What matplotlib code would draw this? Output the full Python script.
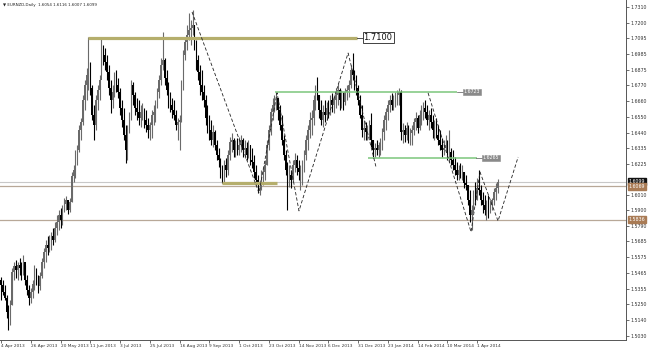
import matplotlib
matplotlib.use("Agg")
import matplotlib.pyplot as plt
import matplotlib.transforms as mtransforms
import numpy as np

# ---------------- data (EURNZD daily) ----------------
FIRST_OPEN = 1.5420

HIGH = [
    1.5439, 1.5418, 1.5383, 1.5314, 1.5244, 1.5279, 1.5501, 1.5543, 1.5557, 1.5543,
    1.5570, 1.5543, 1.5591, 1.5522, 1.5453, 1.5383, 1.5362, 1.5418, 1.5522, 1.5501,
    1.5453, 1.5473, 1.5570, 1.5640, 1.5695, 1.5723, 1.5730, 1.5751, 1.5779, 1.5820,
    1.5869, 1.5904, 1.5917, 1.5938, 1.5987, 1.6001, 1.5973, 1.5987, 1.6167, 1.6216,
    1.6320, 1.6355, 1.6494, 1.6542, 1.6702, 1.6806, 1.6889, 1.7104, 1.6931, 1.6771,
    1.6632, 1.6702, 1.6771, 1.6841, 1.7104, 1.7049, 1.7028, 1.6979, 1.6910, 1.6806,
    1.6771, 1.6861, 1.6875, 1.6820, 1.6750, 1.6667, 1.6611, 1.6494, 1.6494, 1.6584,
    1.6806, 1.6792, 1.6723, 1.6681, 1.6667, 1.6632, 1.6646, 1.6611, 1.6598, 1.6542,
    1.6514, 1.6598, 1.6632, 1.6667, 1.6750, 1.6841, 1.6958, 1.7139, 1.6958, 1.6875,
    1.6792, 1.6723, 1.6681, 1.6667, 1.6598, 1.6542, 1.6563, 1.6806, 1.7014, 1.7097,
    1.7188, 1.7271, 1.7222, 1.7292, 1.7188, 1.7083, 1.6979, 1.6910, 1.6875, 1.6771,
    1.6702, 1.6632, 1.6563, 1.6528, 1.6494, 1.6459, 1.6389, 1.6334, 1.6264, 1.6216,
    1.6251, 1.6264, 1.6320, 1.6410, 1.6438, 1.6403, 1.6389, 1.6403, 1.6410, 1.6424,
    1.6403, 1.6389, 1.6376, 1.6389, 1.6355, 1.6334, 1.6285, 1.6216, 1.6147, 1.6112,
    1.6181, 1.6195, 1.6251, 1.6389, 1.6494, 1.6611, 1.6681, 1.6702, 1.6723, 1.6681,
    1.6632, 1.6563, 1.6424, 1.6320, 1.6237, 1.6216, 1.6181, 1.6251, 1.6299, 1.6285,
    1.6251, 1.6216, 1.6251, 1.6320, 1.6424, 1.6494, 1.6584, 1.6598, 1.6702, 1.6771,
    1.6827, 1.6702, 1.6667, 1.6632, 1.6667, 1.6653, 1.6667, 1.6702, 1.6716, 1.6702,
    1.6750, 1.6785, 1.6750, 1.6736, 1.6723, 1.6750, 1.6771, 1.6806, 1.6910, 1.6993,
    1.6875, 1.6841, 1.6771, 1.6702, 1.6632, 1.6528, 1.6514, 1.6494, 1.6528, 1.6577,
    1.6389, 1.6369, 1.6389, 1.6376, 1.6403, 1.6473, 1.6563, 1.6611, 1.6667, 1.6702,
    1.6716, 1.6702, 1.6723, 1.6736, 1.6750, 1.6736, 1.6507, 1.6494, 1.6514, 1.6494,
    1.6473, 1.6494, 1.6542, 1.6584, 1.6563, 1.6598, 1.6632, 1.6653, 1.6667, 1.6632,
    1.6598, 1.6611, 1.6563, 1.6528, 1.6542, 1.6494, 1.6459, 1.6403, 1.6389, 1.6424,
    1.6389, 1.6459, 1.6334, 1.6320, 1.6271, 1.6237, 1.6216, 1.6230, 1.6216, 1.6167,
    1.6147, 1.6077, 1.6042, 1.5938, 1.6042, 1.6098, 1.6126, 1.6181, 1.6077, 1.6029,
    1.6008, 1.5973, 1.6008, 1.5973, 1.5987, 1.6056, 1.6091, 1.6116,
]

LOW = [
    1.5279, 1.5314, 1.5279, 1.5154, 1.5071, 1.5106, 1.5244, 1.5418, 1.5432, 1.5418,
    1.5453, 1.5418, 1.5453, 1.5383, 1.5314, 1.5244, 1.5258, 1.5293, 1.5348, 1.5383,
    1.5328, 1.5348, 1.5432, 1.5501, 1.5543, 1.5591, 1.5612, 1.5626, 1.5661, 1.5682,
    1.5730, 1.5765, 1.5779, 1.5800, 1.5890, 1.5904, 1.5876, 1.5890, 1.5959, 1.6098,
    1.6126, 1.6216, 1.6306, 1.6389, 1.6494, 1.6598, 1.6667, 1.6736, 1.6702, 1.6528,
    1.6389, 1.6459, 1.6598, 1.6667, 1.6841, 1.6910, 1.6875, 1.6806, 1.6702, 1.6577,
    1.6611, 1.6688, 1.6723, 1.6681, 1.6563, 1.6480, 1.6389, 1.6230, 1.6251, 1.6438,
    1.6528, 1.6632, 1.6563, 1.6528, 1.6494, 1.6480, 1.6528, 1.6473, 1.6445, 1.6403,
    1.6389, 1.6403, 1.6494, 1.6514, 1.6611, 1.6681, 1.6771, 1.6875, 1.6771, 1.6702,
    1.6611, 1.6584, 1.6542, 1.6528, 1.6459, 1.6389, 1.6320, 1.6514, 1.6736, 1.6945,
    1.7014, 1.7083, 1.7049, 1.7118, 1.7014, 1.6875, 1.6806, 1.6702, 1.6667, 1.6618,
    1.6494, 1.6438, 1.6389, 1.6355, 1.6341, 1.6320, 1.6251, 1.6202, 1.6126, 1.6091,
    1.6098, 1.6133, 1.6147, 1.6251, 1.6306, 1.6271, 1.6271, 1.6285, 1.6285, 1.6306,
    1.6271, 1.6264, 1.6251, 1.6264, 1.6216, 1.6195, 1.6126, 1.6077, 1.6022, 1.6008,
    1.6042, 1.6077, 1.6112, 1.6216, 1.6320, 1.6424, 1.6528, 1.6584, 1.6598, 1.6528,
    1.6459, 1.6355, 1.6251, 1.6147, 1.5904, 1.6063, 1.6056, 1.6098, 1.6167, 1.6147,
    1.6112, 1.6042, 1.6077, 1.6167, 1.6251, 1.6320, 1.6403, 1.6424, 1.6494, 1.6598,
    1.6667, 1.6542, 1.6494, 1.6480, 1.6514, 1.6528, 1.6542, 1.6563, 1.6584, 1.6577,
    1.6611, 1.6632, 1.6598, 1.6611, 1.6598, 1.6632, 1.6667, 1.6688, 1.6750, 1.6806,
    1.6736, 1.6702, 1.6632, 1.6542, 1.6410, 1.6389, 1.6389, 1.6389, 1.6403, 1.6341,
    1.6271, 1.6271, 1.6285, 1.6271, 1.6285, 1.6320, 1.6389, 1.6459, 1.6528, 1.6584,
    1.6598, 1.6598, 1.6618, 1.6632, 1.6632, 1.6389, 1.6369, 1.6376, 1.6389, 1.6369,
    1.6355, 1.6355, 1.6424, 1.6459, 1.6438, 1.6459, 1.6494, 1.6528, 1.6542, 1.6494,
    1.6459, 1.6473, 1.6403, 1.6389, 1.6403, 1.6355, 1.6320, 1.6271, 1.6285, 1.6306,
    1.6251, 1.6237, 1.6216, 1.6181, 1.6147, 1.6112, 1.6112, 1.6126, 1.6112, 1.6056,
    1.6042, 1.5938, 1.5820, 1.5765, 1.5890, 1.5938, 1.5973, 1.6008, 1.5938, 1.5883,
    1.5869, 1.5834, 1.5848, 1.5883, 1.5904, 1.5938, 1.5973, 1.6022,
]

CLOSE = [
    1.5383, 1.5335, 1.5293, 1.5196, 1.5154, 1.5244, 1.5473, 1.5515, 1.5487, 1.5522,
    1.5501, 1.5459, 1.5543, 1.5418, 1.5348, 1.5293, 1.5335, 1.5390, 1.5487, 1.5418,
    1.5376, 1.5446, 1.5543, 1.5612, 1.5661, 1.5640, 1.5695, 1.5723, 1.5695, 1.5779,
    1.5820, 1.5869, 1.5834, 1.5904, 1.5945, 1.5973, 1.5904, 1.5959, 1.6140, 1.6181,
    1.6285, 1.6320, 1.6459, 1.6514, 1.6667, 1.6771, 1.6841, 1.6875, 1.6750, 1.6563,
    1.6494, 1.6667, 1.6736, 1.6806, 1.7014, 1.6979, 1.6931, 1.6861, 1.6750, 1.6667,
    1.6723, 1.6820, 1.6771, 1.6723, 1.6611, 1.6528, 1.6424, 1.6320, 1.6459, 1.6542,
    1.6771, 1.6702, 1.6611, 1.6584, 1.6542, 1.6584, 1.6598, 1.6528, 1.6494, 1.6459,
    1.6494, 1.6563, 1.6584, 1.6632, 1.6723, 1.6806, 1.6910, 1.6945, 1.6820, 1.6736,
    1.6667, 1.6632, 1.6598, 1.6563, 1.6494, 1.6514, 1.6528, 1.6771, 1.6979, 1.7070,
    1.7118, 1.7153, 1.7167, 1.7188, 1.7049, 1.6945, 1.6861, 1.6771, 1.6723, 1.6667,
    1.6542, 1.6494, 1.6459, 1.6389, 1.6445, 1.6355, 1.6285, 1.6251, 1.6181, 1.6126,
    1.6216, 1.6181, 1.6285, 1.6376, 1.6389, 1.6320, 1.6355, 1.6320, 1.6355, 1.6389,
    1.6320, 1.6334, 1.6285, 1.6355, 1.6251, 1.6237, 1.6167, 1.6112, 1.6077, 1.6077,
    1.6147, 1.6167, 1.6216, 1.6355, 1.6459, 1.6584, 1.6632, 1.6667, 1.6681, 1.6598,
    1.6494, 1.6389, 1.6285, 1.6181, 1.6112, 1.6147, 1.6112, 1.6216, 1.6251, 1.6195,
    1.6167, 1.6181, 1.6216, 1.6285, 1.6389, 1.6459, 1.6528, 1.6542, 1.6667, 1.6723,
    1.6702, 1.6598, 1.6528, 1.6584, 1.6563, 1.6611, 1.6598, 1.6667, 1.6632, 1.6667,
    1.6702, 1.6736, 1.6667, 1.6702, 1.6653, 1.6723, 1.6736, 1.6771, 1.6875, 1.6841,
    1.6806, 1.6750, 1.6667, 1.6563, 1.6459, 1.6473, 1.6445, 1.6459, 1.6494, 1.6389,
    1.6320, 1.6334, 1.6320, 1.6355, 1.6376, 1.6445, 1.6528, 1.6584, 1.6632, 1.6667,
    1.6632, 1.6667, 1.6681, 1.6702, 1.6723, 1.6445, 1.6459, 1.6424, 1.6473, 1.6403,
    1.6438, 1.6459, 1.6514, 1.6542, 1.6473, 1.6563, 1.6598, 1.6611, 1.6584, 1.6528,
    1.6563, 1.6514, 1.6459, 1.6473, 1.6424, 1.6389, 1.6355, 1.6320, 1.6334, 1.6355,
    1.6285, 1.6306, 1.6251, 1.6216, 1.6181, 1.6147, 1.6181, 1.6147, 1.6167, 1.6091,
    1.6077, 1.5973, 1.5869, 1.5904, 1.6008, 1.5973, 1.6056, 1.6042, 1.5973, 1.5938,
    1.5904, 1.5938, 1.5904, 1.5938, 1.5973, 1.6029, 1.6056, 1.6099,
]

DATE_LABELS = ["4 Apr 2013", "26 Apr 2013", "20 May 2013", "11 Jun 2013", "3 Jul 2013",
               "25 Jul 2013", "16 Aug 2013", "9 Sep 2013", "1 Oct 2013", "23 Oct 2013",
               "14 Nov 2013", "6 Dec 2013", "31 Dec 2013", "23 Jan 2014", "14 Feb 2014",
               "10 Mar 2014", "1 Apr 2014"]
BARS_PER_LABEL = 16

PRICE_TICKS = [1.7310, 1.7200, 1.7095, 1.6985, 1.6875, 1.6770, 1.6660, 1.6550, 1.6440,
               1.6335, 1.6225, 1.6010, 1.5900, 1.5790, 1.5685, 1.5575, 1.5465, 1.5355,
               1.5250, 1.5140, 1.5030]

TITLE = "\u25BC EURNZD,Daily  1.6054 1.6116 1.6007 1.6099"

# horizontal levels: (start bar, end bar, price)
OLIVE_LEVELS = [(47.0, 191.4, 1.7100), (118.8, 148.4, 1.6091)]
GREEN_LEVELS = [(147.3, 245.0, 1.6723), (197.3, 255.9, 1.6265)]
LEVEL_LABELS = [(194.6, 1.7100, "1.7100", "big"), (248.4, 1.6723, "1.6723", "small"),
                (258.6, 1.6265, "1.6265", "small")]
BID = 1.6099
ORANGE_PRICES = [1.6069, 1.5836]

# dashed zig-zag projections (bar index, price)
ZIG1_X = [102.7, 138.7, 148.4, 160.2, 186.6, 201.6]
ZIG1_Y = [1.7278, 1.6022, 1.6716, 1.5897, 1.6993, 1.6202]
ZIG2_X = [229.6, 252.7, 257.5, 267.2, 278.0]
ZIG2_Y = [1.6716, 1.5751, 1.6167, 1.5827, 1.6271]

# ---------------- drawing ----------------
W, H = 650, 348
fig = plt.figure(figsize=(W / 100, H / 100), dpi=100)
fig.patch.set_facecolor("white")
ax = fig.add_axes([0, 8 / H, 626 / W, 340 / H])
ax.set_facecolor("white")

n = len(CLOSE)
idx = np.arange(n)
close = np.array(CLOSE)
opens = np.concatenate([[FIRST_OPEN], close[:-1]])
high = np.array(HIGH)
low = np.array(LOW)
up = close >= opens
cols = np.where(up, "#6a6a6a", "#000000")

ax.vlines(idx, low, high, colors=cols, linewidth=0.8, zorder=3)
ax.bar(idx, np.abs(close - opens), bottom=np.minimum(opens, close), width=0.75,
       color=cols, linewidth=0, zorder=3)

ax.set_xlim(-0.54, 336.0)
ax.set_ylim(1.5001, 1.7361)

# full-width price lines
ax.axhline(BID, color="#c8c8c8", lw=0.8, zorder=2)
for p in ORANGE_PRICES:
    ax.axhline(p, color="#b8a898", lw=0.9, zorder=2)

for x0, x1, p in OLIVE_LEVELS:
    ax.plot([x0, x1], [p, p], color="#b5ae6c", lw=2.3, solid_capstyle="butt", zorder=4)
for x0, x1, p in GREEN_LEVELS:
    ax.plot([x0, x1], [p, p], color="#7cc67c", lw=1.1, solid_capstyle="butt", zorder=4)

for x, p, txt, kind in LEVEL_LABELS:
    if kind == "big":
        ax.plot([x - 3.2, x], [p, p], color="#333333", lw=0.6, zorder=4)
        ax.text(x + 0.3, p, txt, fontsize=6, va="center", ha="left", color="#111111",
                bbox=dict(boxstyle="square,pad=0.12", fc="white", ec="#222222", lw=0.6),
                zorder=6)
    else:
        ax.plot([x - 3.0, x], [p, p], color="#555555", lw=0.5, zorder=4)
        ax.text(x + 0.3, p, txt, fontsize=3.4, va="center", ha="left", color="white",
                bbox=dict(boxstyle="square,pad=0.15", fc="#8a8a8a", ec="#8a8a8a", lw=0.4),
                zorder=6)

ax.plot(ZIG1_X, ZIG1_Y, color="#222222", lw=0.6, ls=(0, (4, 2.5)), zorder=5)
ax.plot(ZIG2_X, ZIG2_Y, color="#222222", lw=0.6, ls=(0, (4, 2.5)), zorder=5)

# axes styling
for s in ["top", "left"]:
    ax.spines[s].set_visible(False)
for s in ["right", "bottom"]:
    ax.spines[s].set_color("#555555")
    ax.spines[s].set_linewidth(0.7)

ax.yaxis.tick_right()
ax.set_yticks(PRICE_TICKS)
ax.set_yticklabels([f"{v:.4f}" for v in PRICE_TICKS])
ax.tick_params(axis="y", labelsize=3.4, length=2, width=0.5, pad=1.5, colors="#333333")

xt = np.arange(len(DATE_LABELS)) * BARS_PER_LABEL
ax.set_xticks(xt)
ax.set_xticklabels(DATE_LABELS, ha="left")
ax.tick_params(axis="x", labelsize=3.1, length=2, width=0.5, pad=0.8, colors="#333333")

# price boxes on the axis
trans = mtransforms.blended_transform_factory(ax.transAxes, ax.transData)
ax.text(1.004, BID, f"{BID:.4f}", transform=trans, fontsize=3.4, color="white",
        va="center", ha="left",
        bbox=dict(boxstyle="square,pad=0.2", fc="#111111", ec="#111111"), zorder=8,
        clip_on=False)
for p in ORANGE_PRICES:
    ax.text(1.004, p, f"{p:.4f}", transform=trans, fontsize=3.4, color="white",
            va="center", ha="left",
            bbox=dict(boxstyle="square,pad=0.2", fc="#a97b55", ec="#a97b55"), zorder=8,
            clip_on=False)

ax.text(0.004, 0.992, TITLE, transform=ax.transAxes, fontsize=2.9, color="#222222",
        va="top", ha="left")

fig.savefig("out.png", dpi=100, facecolor="white")
